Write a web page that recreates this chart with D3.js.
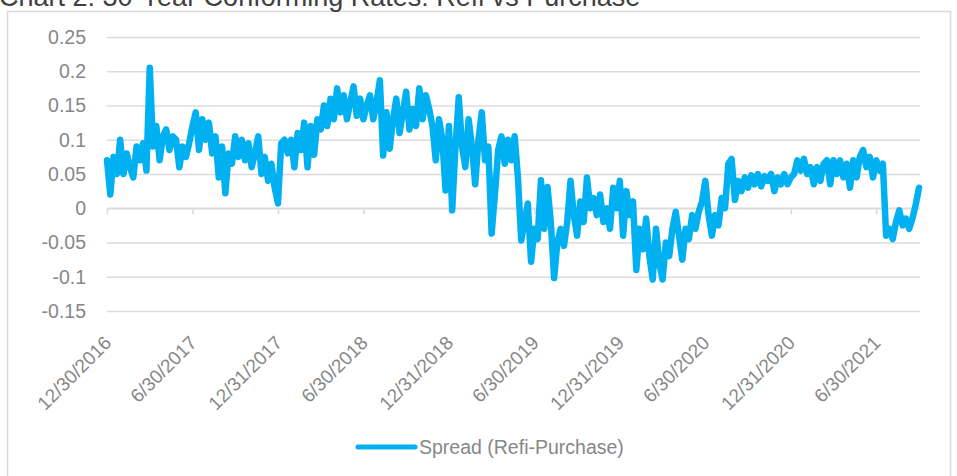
<!DOCTYPE html>
<html>
<head>
<meta charset="utf-8">
<script src="https://cdn.jsdelivr.net/npm/d3@7"></script>
<style>
  html, body { margin: 0; padding: 0; background: #fff; }
  svg { display: block; font-family: "Liberation Sans", Arial, sans-serif; }
</style>
</head>
<body>
<svg id="chart" width="957" height="476"></svg>
<script>
// ---- data (weekly readings, Dec 2016 – Sep 2021) ----
const title = "Chart 2: 30-Year Conforming Rates: Refi vs Purchase";
const seriesName = "Spread (Refi-Purchase)";
const spread = [
  0.07, 0.02, 0.075, 0.05, 0.1, 0.05, 0.08, 0.06, 0.045, 0.09, 0.07, 0.095, 0.055,
  0.205, 0.09, 0.12, 0.07, 0.105, 0.115, 0.085, 0.105, 0.1, 0.06, 0.09, 0.075, 0.095, 0.12,
  0.14, 0.085, 0.13, 0.1, 0.125, 0.08, 0.105, 0.045, 0.09, 0.022, 0.08, 0.065, 0.105, 0.075,
  0.1, 0.07, 0.095, 0.06, 0.08, 0.105, 0.05, 0.075, 0.04, 0.065, 0.03, 0.007,
  0.095, 0.1, 0.08, 0.1, 0.06, 0.11, 0.085,
  0.125, 0.06, 0.12, 0.078, 0.13, 0.115, 0.15, 0.12, 0.16, 0.13, 0.175, 0.14, 0.165, 0.13,
  0.155, 0.178, 0.135, 0.16, 0.13, 0.15, 0.165, 0.13, 0.155, 0.187,
  0.077, 0.14, 0.087, 0.13, 0.16, 0.11, 0.14, 0.17, 0.115, 0.145, 0.12, 0.175, 0.13, 0.165,
  0.145, 0.12, 0.07, 0.13, 0.1, 0.026, 0.12, -0.003, 0.09, 0.162, 0.09, 0.06, 0.13, 0.09,
  0.035, 0.1, 0.14, 0.07, 0.09, -0.037, 0.02, 0.085, 0.105, 0.065, 0.1,
  0.07, 0.105, 0.045, -0.047, -0.02, 0.007, -0.078, -0.03, -0.045, 0.041, -0.03, 0.031,
  -0.02, -0.102, -0.05, -0.03, -0.055, -0.02, 0.04, -0.01, -0.04, 0.01, -0.02, 0.045, 0.0,
  0.015, -0.01, 0.02, -0.02, 0.0, -0.03, 0.03, 0.0, 0.04, -0.04, 0.025, -0.01, 0.01, -0.09,
  -0.03, -0.06, -0.015, -0.07, -0.104, -0.03, -0.08, -0.104, -0.05, -0.07, -0.03, -0.005,
  -0.04, -0.075, -0.03, -0.045, -0.01, -0.03, -0.005, 0.01, 0.04, -0.01,
  -0.04, -0.01, -0.025, 0.015, 0.0, 0.065, 0.072, 0.012, 0.04, 0.025, 0.045, 0.03, 0.048,
  0.035, 0.05, 0.032, 0.047, 0.04, 0.05, 0.025, 0.045, 0.035, 0.05, 0.035, 0.045, 0.05,
  0.07, 0.055, 0.072, 0.05, 0.06, 0.035, 0.06, 0.04, 0.065, 0.07, 0.035, 0.07, 0.05, 0.07,
  0.045, 0.065, 0.03, 0.07, 0.045, 0.075, 0.085, 0.06, 0.075, 0.045, 0.07, 0.055, 0.065,
  -0.04, -0.03, -0.045, -0.02, -0.003, -0.025, -0.015, -0.03, -0.015, 0.005, 0.03
];
const tickLabels = ["12/30/2016", "6/30/2017", "12/31/2017", "6/30/2018", "12/31/2018",
                    "6/30/2019", "12/31/2019", "6/30/2020", "12/31/2020", "6/30/2021"];
const weeksPerLabel = 26;
const yTicks = [-0.15, -0.1, -0.05, 0, 0.05, 0.1, 0.15, 0.2, 0.25];

// ---- layout ----
const svg = d3.select("#chart");
const plot = { left: 107, right: 920, top: 37, bottom: 311 };
const lineColor = "#00B0F0";
const textColor = "#878787";
const gridColor = "#dcdcdc";

// frame
svg.append("rect")
  .attr("x", 7.5).attr("y", 11.5).attr("width", 943).attr("height", 520)
  .attr("fill", "#fff").attr("stroke", "#d9d9d9").attr("stroke-width", 1.5);

// title (partially cut at top, as in the reference)
svg.append("text")
  .attr("x", -1).attr("y", 6)
  .attr("font-size", 27).attr("fill", "#404040")
  .text(title);

const x = d3.scaleLinear().domain([0, spread.length - 1]).range([plot.left, plot.right - 1]);
const y = d3.scaleLinear().domain([-0.15, 0.25]).range([plot.bottom, plot.top]);

// y axis with gridlines
const yAxis = svg.append("g")
  .attr("transform", `translate(${plot.left},0)`)
  .call(d3.axisLeft(y).tickValues(yTicks)
    .tickSize(-(plot.right - plot.left))
    .tickPadding(21)
    .tickFormat(d => String(d)));
yAxis.select(".domain").remove();
yAxis.selectAll(".tick line").attr("stroke", gridColor).attr("stroke-width", 1.6);
yAxis.selectAll(".tick text")
  .attr("fill", textColor).attr("font-size", 19.5)
  .attr("font-family", "'Liberation Sans', Arial, sans-serif");

// zero axis with tick marks
const tickIdx = tickLabels.map((d, i) => i * weeksPerLabel);
const xAxis0 = svg.append("g")
  .attr("transform", `translate(0,${y(0)})`)
  .call(d3.axisBottom(x).tickValues(tickIdx).tickSize(6).tickFormat(""));
xAxis0.select(".domain").attr("stroke", gridColor).attr("stroke-width", 1.6)
  .attr("d", `M${plot.left},0H${plot.right}`);
xAxis0.selectAll(".tick line").attr("stroke", gridColor).attr("stroke-width", 1.6);

// x labels at bottom, rotated
const xLab = svg.append("g")
  .attr("transform", `translate(0,${plot.bottom})`)
  .call(d3.axisBottom(x).tickValues(tickIdx).tickSize(0)
    .tickFormat((d, i) => tickLabels[i]));
xLab.select(".domain").remove();
xLab.selectAll(".tick text")
  .attr("fill", textColor).attr("font-size", 19)
  .attr("font-family", "'Liberation Sans', Arial, sans-serif")
  .attr("text-anchor", "end")
  .attr("dy", 0).attr("y", 0)
  .attr("transform", "translate(5,33) rotate(-45)");

// series line
const line = d3.line().x((d, i) => x(i)).y(d => y(d));
svg.append("path")
  .datum(spread)
  .attr("fill", "none")
  .attr("stroke", lineColor)
  .attr("stroke-width", 6.5)
  .attr("stroke-linejoin", "round")
  .attr("stroke-linecap", "round")
  .attr("d", line);

// legend
const lg = svg.append("g").attr("transform", "translate(358,447)");
lg.append("line").attr("x1", 0).attr("x2", 57).attr("y1", 0).attr("y2", 0)
  .attr("stroke", lineColor).attr("stroke-width", 5).attr("stroke-linecap", "round");
lg.append("text").attr("x", 61).attr("y", 7)
  .attr("font-size", 19.5).attr("fill", textColor).text(seriesName);
</script>
</body>
</html>
